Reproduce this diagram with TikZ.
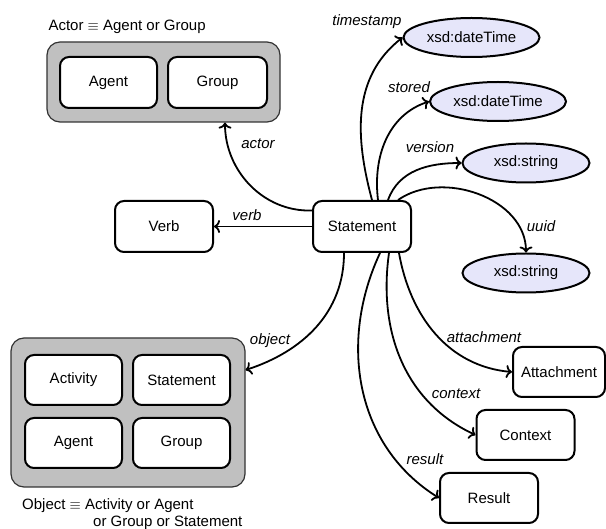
\documentclass[tikz,border=0pt]{standalone}
\usepackage{fontspec}
\setmainfont{Liberation Sans}
\usetikzlibrary{arrows.meta}
\usetikzlibrary{shapes.geometric}

\definecolor{caixacinza}{RGB}{192,192,192}
\definecolor{lavanda}{RGB}{230,230,250}

\tikzset{
  caixa/.style={draw, line width=2pt, rounded corners=9pt, fill=white,
    minimum width=98pt, minimum height=51pt, font=\fontsize{15}{17}\selectfont},
  grupo/.style={draw=black!80, line width=1.2pt, rounded corners=13pt, fill=caixacinza},
  literal/.style={draw, ellipse, line width=2pt, fill=lavanda,
    minimum width=127pt, minimum height=39pt, font=\fontsize{15}{17}\selectfont},
  rotulo/.style={font=\fontsize{15}{17}\selectfont\itshape},
  seta/.style={line width=1.8pt, -{To[length=6pt,width=13pt]}},
}

\begin{document}
\begin{tikzpicture}[x=1pt,y=1pt]
\useasboundingbox (0,0) rectangle (606,-529);

% actor
\node[anchor=west, font=\fontsize{15}{17}\selectfont] (actlbl) at (45,-27) {Actor $\equiv$ Agent or Group};
\node[grupo, minimum width=233pt, minimum height=80pt] (actor) at (163.5,-82) {};
\node[caixa, minimum width=97pt, minimum height=51pt] (agent1) at (108.5,-82.5) {Agent};
\node[caixa, minimum width=99pt, minimum height=51pt] (group1) at (217.5,-82.5) {Group};

% object
\node[grupo, minimum width=234pt, minimum height=149pt] (object) at (128,-412.5) {};
\node[caixa, minimum width=97pt, minimum height=50pt] (activity) at (73.5,-380) {Activity};
\node[caixa, minimum width=97pt, minimum height=50pt] (stmt2) at (181.5,-380) {Statement};
\node[caixa, minimum width=97pt, minimum height=50pt] (agent2) at (73.5,-443) {Agent};
\node[caixa, minimum width=97pt, minimum height=50pt] (group2) at (181.5,-443) {Group};
\node[anchor=north west, align=left, inner sep=0pt, font=\fontsize{15}{17}\selectfont] (objlbl) at (22,-498)
  {Object $\equiv$ Activity or Agent\\\hspace*{71pt}or Group or Statement};

% nos principais
\node[caixa] (verb) at (164,-226.5) {Verb};
\node[caixa] (stmt) at (362,-226.5) {Statement};
\node[caixa, minimum width=92pt, minimum height=50pt] (attach) at (559,-372) {Attachment};
\node[caixa, minimum height=50pt] (context) at (525.5,-435) {Context};
\node[caixa, minimum height=50pt] (result) at (489,-498) {Result};

% literais
\node[literal] (ts) at (471.5,-37.5) {xsd:dateTime};
\node[literal, minimum width=130pt] (stored) at (498,-101.5) {xsd:dateTime};
\node[literal] (version) at (526,-163) {xsd:string};
\node[literal] (uuid) at (526,-273) {xsd:string};

% arestas
\draw[seta] ([yshift=16pt]stmt.west) to[out=182,in=-90] ([xshift=61.5pt]actor.south);
\draw[seta] (stmt.west) -- (verb.east);
\draw[seta] ([xshift=-18pt]stmt.south) to[out=-90,in=18] ([yshift=42.5pt]object.east);
\draw[seta] ([xshift=10pt]stmt.north) to[out=105,in=218] (ts.west);
\draw[seta] ([xshift=16pt]stmt.north) to[out=97,in=198] (stored.west);
\draw[seta] ([xshift=26pt]stmt.north) to[out=70,in=180] (version.west);
\draw[seta] ([xshift=36pt]stmt.north) to[out=35,in=90] (uuid.north);
\draw[seta] ([xshift=37pt]stmt.south) to[out=-80,in=175] (attach.west);
\draw[seta] ([xshift=27pt]stmt.south) to[out=-98,in=155] (context.west);
\draw[seta] ([xshift=18pt]stmt.south) to[out=-115,in=148] (result.west);

% rotulos
\node[rotulo] (lactor) at (258,-144) {actor};
\node[rotulo] (lverb) at (247,-215) {verb};
\node[rotulo] (lobject) at (270,-341) {object};
\node[rotulo] (lts) at (367,-22) {timestamp};
\node[rotulo] (lstored) at (409,-87) {stored};
\node[rotulo] (lversion) at (430,-147) {version};
\node[rotulo] (luuid) at (541,-226) {uuid};
\node[rotulo] (lattach) at (484,-337) {attachment};
\node[rotulo] (lcontext) at (456,-394) {context};
\node[rotulo] (lresult) at (425,-459) {result};

\end{tikzpicture}
\end{document}
